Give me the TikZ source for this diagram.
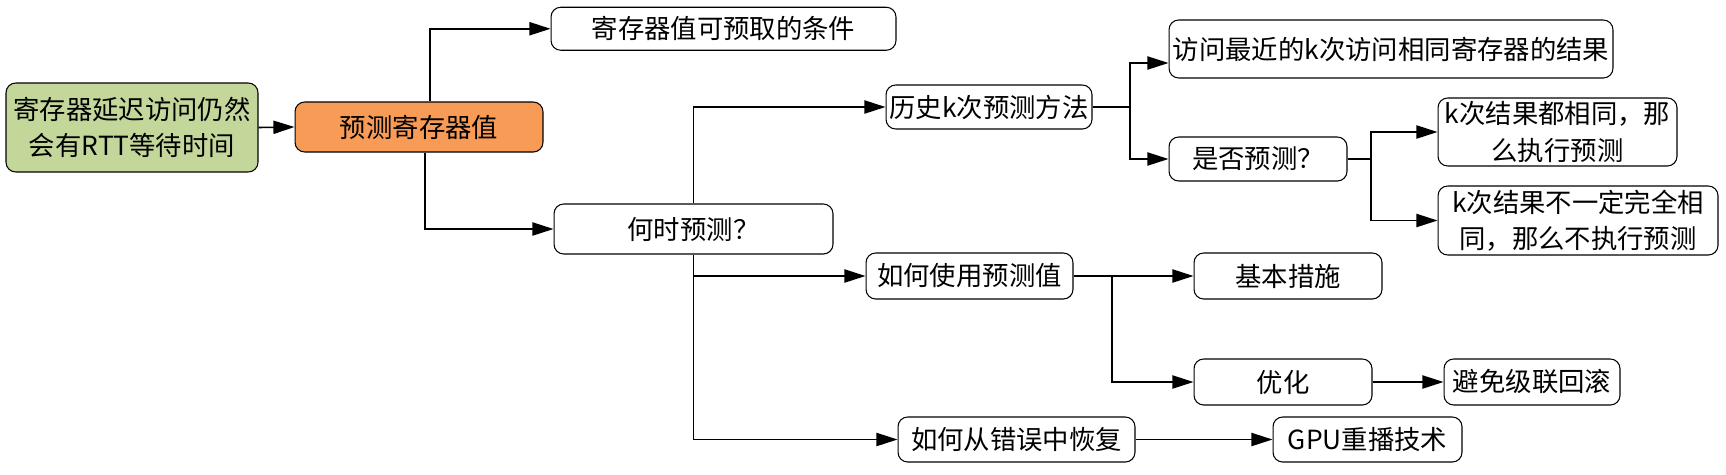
\documentclass[tikz,border=0pt]{standalone}
\usepackage{fontspec}
\setmainfont{Noto Sans CJK SC}
\usepackage{xcolor}
\usetikzlibrary{arrows.meta, positioning, calc}
\definecolor{leafgreen}{HTML}{C4D79B}
\definecolor{predorange}{HTML}{F79B57}

\begin{document}
\begin{tikzpicture}[x=0.02cm, y=-0.02cm]
\tikzstyle{leaf} = [rectangle, rounded corners=5.5pt, draw, line width=0.6pt, inner sep=0pt, align=center, font=\fontsize{15pt}{20.5pt}\selectfont]
\tikzstyle{link} = [line width=0.9pt, -{Triangle[length=12pt, width=7.5pt]}]

\useasboundingbox (0,0) rectangle (1726,474);

% left part
\node (delay) [leaf, fill=leafgreen, minimum width=5.04cm, minimum height=1.78cm] at (132,127.5) {寄存器延迟访问仍然\\会有RTT等待时间};
\node (pred) [leaf, fill=predorange, minimum width=4.96cm, minimum height=1.0cm] at (419,127) {预测寄存器值};

\node (cond) [leaf, minimum width=6.9cm, minimum height=0.86cm] at (723.5,28.75) {寄存器值可预取的条件};
\node (when) [leaf, minimum width=5.58cm, minimum height=1.0cm] at (693.5,229) {何时预测？};

% when to predict
\node (hist) [leaf, minimum width=4.12cm, minimum height=0.88cm] at (989,107) {历史k次预测方法};
\node (recent) [leaf, minimum width=8.88cm, minimum height=1.16cm] at (1391,49) {访问最近的k次访问相同寄存器的结果};
\node (whether) [leaf, minimum width=3.56cm, minimum height=0.88cm] at (1258,159) {是否预测？};
\node (same) [leaf, minimum width=4.78cm, minimum height=1.36cm] at (1557.5,132) {k次结果都相同，那\\么执行预测};
\node (notsame) [leaf, minimum width=5.6cm, minimum height=1.38cm] at (1578,220.5) {k次结果不一定完全相\\同，那么不执行预测};

% how to use and recover
\node (use) [leaf, minimum width=4.14cm, minimum height=0.92cm] at (969.5,276) {如何使用预测值};
\node (basic) [leaf, minimum width=3.76cm, minimum height=0.92cm] at (1288,276) {基本措施};
\node (opt) [leaf, minimum width=3.56cm, minimum height=0.92cm] at (1283,382) {优化};
\node (avoid) [leaf, minimum width=3.52cm, minimum height=0.92cm] at (1532,382) {避免级联回滚};
\node (recover) [leaf, minimum width=4.74cm, minimum height=0.9cm] at (1016.5,439.5) {如何从错误中恢复};
\node (gpu) [leaf, minimum width=3.78cm, minimum height=0.9cm] at (1367.5,439.5) {GPU重播技术};

\coordinate (histfork) at (1130,107);
\coordinate (whetherfork) at (1371,159);
\coordinate (usefork) at (1112,276);

\draw[link] (delay.east) -- (pred.west);
\draw[link] ([xshift=0.22cm]pred.north) |- (cond.west);
\draw[link] ([xshift=0.12cm]pred.south) |- (when.west);

\draw[link] (when.north) |- (hist.west);
\draw[link] (when.south) |- (use.west);
\draw[link] (when.south) |- (recover.west);

\draw[line width=0.9pt] (hist.east) -- (histfork);
\draw[link] (histfork) |- ([yshift=-0.28cm]recent.west);
\draw[link] (histfork) |- (whether.west);

\draw[line width=0.9pt] (whether.east) -- (whetherfork);
\draw[link] (whetherfork) |- (same.west);
\draw[link] (whetherfork) |- (notsame.west);

\draw[link] (use.east) -- (basic.west);
\draw[link] (usefork) |- (opt.west);
\draw[link] (opt.east) -- (avoid.west);
\draw[link] (recover.east) -- (gpu.west);

\end{tikzpicture}
\end{document}
